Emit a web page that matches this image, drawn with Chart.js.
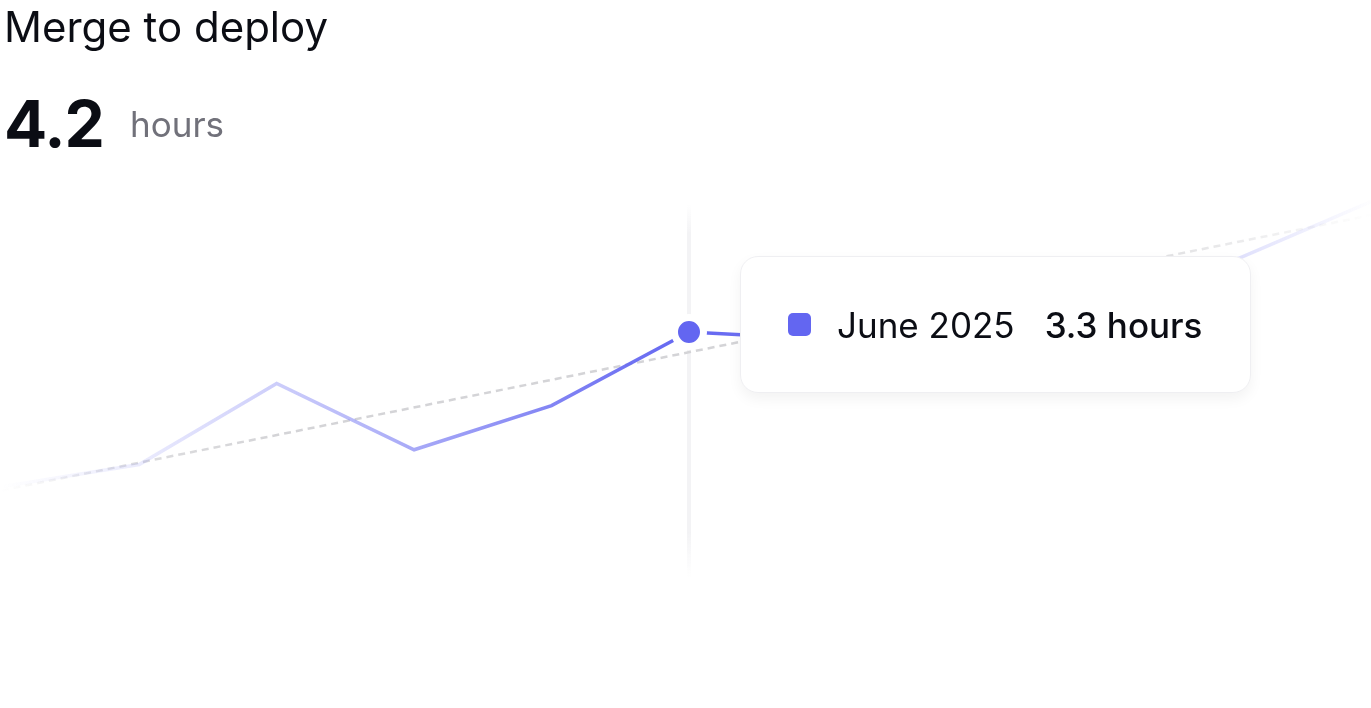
<!DOCTYPE html>
<html lang="en">
<head>
<meta charset="utf-8">
<title>Merge to deploy</title>
<script src="https://cdn.jsdelivr.net/npm/chart.js@4.4.1/dist/chart.umd.min.js"></script>
<style>
  html, body {
    margin: 0;
    padding: 0;
    width: 1371px;
    height: 708px;
    overflow: hidden;
    background: #ffffff;
    font-family: 'Inter', 'Noto Sans', sans-serif;
    color: #0b0d14;
  }
  .title {
    position: absolute;
    left: 4px;
    top: 6px;
    margin: 0;
    font-size: 42px;
    line-height: 42px;
    font-weight: 400;
    white-space: nowrap;
    z-index: 2;
  }
  .big-value {
    position: absolute;
    left: 4px;
    top: 92px;
    font-size: 64px;
    line-height: 64px;
    font-weight: 700;
    letter-spacing: -1px;
    z-index: 2;
  }
  .big-unit {
    position: absolute;
    left: 130px;
    top: 107px;
    font-size: 35px;
    line-height: 35px;
    color: #71717a;
    z-index: 2;
  }
  .chart-wrap {
    position: absolute;
    left: 0;
    top: 0;
    width: 1378px;
    height: 708px;
  }
  .tip {
    position: absolute;
    display: flex;
    align-items: center;
    box-sizing: border-box;
    height: 137px;
    padding: 0 48px 0 47px;
    background: #ffffff;
    border: 1px solid #efeff2;
    border-radius: 18px;
    box-shadow: 0 6px 14px rgba(0, 0, 0, 0.05);
    white-space: nowrap;
    pointer-events: none;
    z-index: 3;
  }
  .tip-swatch {
    width: 23px;
    height: 23px;
    border-radius: 5px;
    margin-right: 26px;
  }
  .tip-label {
    font-size: 35px;
    font-weight: 400;
    color: #0b0d14;
    margin-right: 30px;
  }
  .tip-value {
    font-size: 35px;
    font-weight: 500;
    color: #0b0d14;
  }
</style>
</head>
<body>
<h1 class="title">Merge to deploy</h1>
<div class="big-value">4.2</div>
<div class="big-unit">hours</div>
<div class="chart-wrap"><canvas id="mergeChart"></canvas></div>

<script>
/* --- Data --- */
const months = [
  'January 2025', 'February 2025', 'March 2025', 'April 2025',
  'May 2025', 'June 2025', 'July 2025', 'August 2025',
  'September 2025', 'October 2025', 'November 2025'
];
const mergeHours = [1.2, 1.5, 2.6, 1.7, 2.3, 3.3, 3.2, 3.6, 3.9, 4.3, 5.1];
// trend line: read at both ends only, drawn straight across the gaps
const trendHours = [1.15, null, null, null, null, null, null, null, null, null, 4.9];
const activeIndex = 5;
const unitLabel = 'hours';

(function () {
  'use strict';

  const COLORS = {
    line: '99, 102, 241',
    trend: '212, 212, 215',
    hoverLine: '243, 243, 245',
    point: '#6366F1',
  };

  /* --- Horizontal fade for a line, strongest in the middle --- */
  function fadeGradient(chart, rgb, stops) {
    const area = chart.chartArea;
    if (!area) return 'rgba(' + rgb + ', 1)';
    const g = chart.ctx.createLinearGradient(area.left, 0, area.right, 0);
    stops.forEach(function (s) {
      g.addColorStop(s[0], 'rgba(' + rgb + ', ' + s[1] + ')');
    });
    return g;
  }

  const LINE_STOPS = [
    [0, 0], [0.1, 0.13], [0.2, 0.32], [0.3, 0.56], [0.4, 0.8], [0.5, 1],
    [0.6, 0.85], [0.75, 0.5], [0.9, 0.2], [1, 0]
  ];
  const TREND_STOPS = [[0, 0], [0.1, 0.8], [0.2, 1], [0.75, 1], [0.88, 0.55], [1, 0]];

  /* --- Vertical hover guide behind the data --- */
  const hoverGuide = {
    id: 'hoverGuide',
    beforeDatasetsDraw(chart) {
      const active = chart.tooltip && chart.tooltip.getActiveElements();
      if (!active || !active.length) return;
      const x = active[0].element.x;
      const top = chart.chartArea.top + 12;
      const bottom = chart.chartArea.bottom + 2;
      const ctx = chart.ctx;
      const g = ctx.createLinearGradient(0, top, 0, bottom);
      g.addColorStop(0, 'rgba(' + COLORS.hoverLine + ', 0)');
      g.addColorStop(0.08, 'rgba(' + COLORS.hoverLine + ', 1)');
      g.addColorStop(0.88, 'rgba(' + COLORS.hoverLine + ', 1)');
      g.addColorStop(1, 'rgba(' + COLORS.hoverLine + ', 0)');
      ctx.save();
      ctx.strokeStyle = g;
      ctx.lineWidth = 4;
      ctx.beginPath();
      ctx.moveTo(x, top);
      ctx.lineTo(x, bottom);
      ctx.stroke();
      ctx.restore();
    }
  };

  /* --- HTML tooltip --- */
  function externalTooltip(context) {
    const chart = context.chart;
    const tooltip = context.tooltip;
    let el = document.getElementById('chart-tip');
    if (!el) {
      el = document.createElement('div');
      el.id = 'chart-tip';
      el.className = 'tip';
      document.body.appendChild(el);
    }
    if (tooltip.opacity === 0 || !tooltip.dataPoints || !tooltip.dataPoints.length) {
      el.style.display = 'none';
      return;
    }
    const dp = tooltip.dataPoints[0];
    el.innerHTML = '';
    const sw = document.createElement('span');
    sw.className = 'tip-swatch';
    sw.style.background = COLORS.point;
    const lab = document.createElement('span');
    lab.className = 'tip-label';
    lab.textContent = chart.data.labels[dp.dataIndex];
    const val = document.createElement('span');
    val.className = 'tip-value';
    val.textContent = dp.raw + ' ' + unitLabel;
    el.appendChild(sw);
    el.appendChild(lab);
    el.appendChild(val);
    el.style.display = 'flex';

    const box = chart.canvas.getBoundingClientRect();
    const px = box.left + dp.element.x;
    const py = box.top + dp.element.y;
    el.style.left = (px + 51) + 'px';
    el.style.top = (py - el.offsetHeight / 2 - 7) + 'px';
  }

  const canvas = document.getElementById('mergeChart');
  const chart = new Chart(canvas, {
    type: 'line',
    data: {
      labels: months,
      datasets: [
        {
          label: 'Merge to deploy',
          data: mergeHours,
          borderColor: function (ctx) { return fadeGradient(ctx.chart, COLORS.line, LINE_STOPS); },
          borderWidth: 3.5,
          tension: 0,
          fill: false,
          pointRadius: 0,
          pointHoverRadius: 14.5,
          pointHoverBorderWidth: 7,
          pointHoverBorderColor: '#ffffff',
          pointHoverBackgroundColor: COLORS.point,
          pointBackgroundColor: COLORS.point,
          clip: false
        },
        {
          label: 'Trend',
          data: trendHours,
          spanGaps: true,
          borderColor: function (ctx) { return fadeGradient(ctx.chart, COLORS.trend, TREND_STOPS); },
          borderWidth: 2.5,
          borderDash: [7, 5],
          tension: 0,
          fill: false,
          pointRadius: 0,
          pointHoverRadius: 0
        }
      ]
    },
    options: {
      responsive: true,
      maintainAspectRatio: false,
      animation: false,
      events: [],
      layout: { padding: { top: 192, bottom: 133, left: 0, right: 0 } },
      plugins: {
        legend: { display: false },
        tooltip: { enabled: false, external: externalTooltip }
      },
      scales: {
        x: { display: false, offset: false },
        y: { display: false, min: 0, max: 5.2 }
      }
    },
    plugins: [hoverGuide]
  });

  /* --- Show June as hovered --- */
  const active = [{ datasetIndex: 0, index: activeIndex }];
  chart.setActiveElements(active);
  chart.tooltip.setActiveElements(active, { x: 0, y: 0 });
  chart.update('none');
})();
</script>
</body>
</html>
